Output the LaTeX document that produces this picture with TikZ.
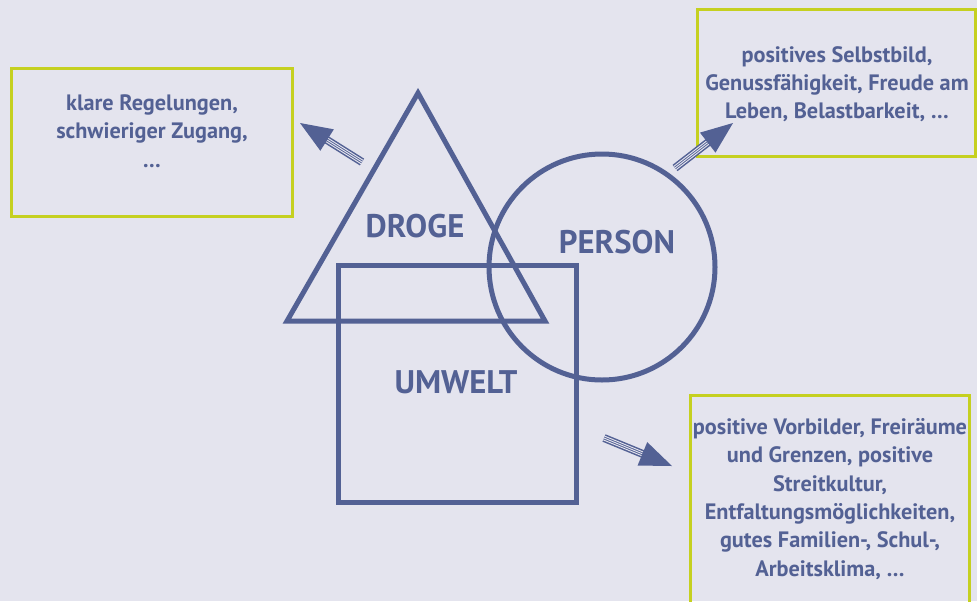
\documentclass[tikz,border=0pt]{standalone}
\usepackage{fontspec}
\setmainfont{PT Sans}
\usetikzlibrary{calc}

\definecolor{bgcol}{RGB}{228,228,238}
\definecolor{ink}{RGB}{83,97,148}
\definecolor{lime}{RGB}{197,208,32}

\tikzset{
  shapeline/.style={draw=ink, line width=3.75pt, line join=miter},
  infobox/.style={draw=lime, line width=2.25pt, inner sep=0pt},
  infotext/.style={text=ink, font=\fontsize{16.7}{21.2}\selectfont\bfseries,
                   align=center, inner sep=0pt},
  biglabel/.style={text=ink, font=\fontsize{24.5}{28}\selectfont\bfseries, inner sep=0pt},
}

% striped shaft with a triangular head, from coordinate #1 to coordinate #2
\newcommand{\stripedarrow}[2]{%
  \coordinate (#1-s) at ($(#2)!24pt!(#1)$);
  \draw[ink, line width=6pt] (#1) -- ($(#1-s)!-2pt!(#1)$);
  \foreach \o in {-1.5pt,0pt,1.5pt}{
    \draw[bgcol, line width=0.7pt] ($(#1)!\o!90:(#1-s)$) -- ($(#1-s)!\o!-90:(#1)$);
  }
  \fill[ink] (#2) -- ($(#1-s)!9.5pt!90:(#2)$) -- ($(#1-s)!9.5pt!-90:(#2)$) -- cycle;
}

\begin{document}
\begin{tikzpicture}[x=0.75pt, y=-0.75pt]
  \fill[bgcol] (0,0) rectangle (977,601);
  \useasboundingbox (0,0) rectangle (977,601);
  \clip (0,0) rectangle (977,601);

  % the three overlapping figures
  \draw[shapeline] (418,93) -- (545,321) -- (287,321) -- cycle;
  \draw[shapeline] (338,265) rectangle (576,502);
  \draw[shapeline] (602,267) circle (113);

  \node[biglabel] (droge)  at (415,226) {DROGE};
  \node[biglabel] (person) at (617,242) {PERSON};
  \node[biglabel] (umwelt) at (456,382) {UMWELT};

  % information boxes
  \node[infobox, minimum width=281*0.75pt, minimum height=148*0.75pt] (boxdroge) at (151.5,142) {};
  \node[infobox, minimum width=278*0.75pt, minimum height=147*0.75pt] (boxperson) at (836,82.5) {};
  \node[infobox, minimum width=279*0.75pt, minimum height=245*0.75pt] (boxumwelt) at (829.5,517.5) {};

  \node[infotext] (tdroge) at (152,131) {klare Regelungen,\\schwieriger Zugang,\\\dots};
  \node[infotext] (tperson) at (837,84) {positives Selbstbild,\\Genussfähigkeit, Freude am\\Leben, Belastbarkeit, \dots};
  \node[infotext] (tumwelt) at (830,499) {positive Vorbilder, Freiräume\\und Grenzen, positive\\Streitkultur,\\Entfaltungsmöglichkeiten,\\gutes Familien-, Schul-,\\Arbeitsklima, \dots};

  % arrows
  \coordinate (a1) at (362,162);
  \coordinate (b1) at (300,123);
  \coordinate (a2) at (675,168);
  \coordinate (b2) at (733,123);
  \coordinate (a3) at (604,438);
  \coordinate (b3) at (672,466);
  \stripedarrow{a1}{b1}
  \stripedarrow{a2}{b2}
  \stripedarrow{a3}{b3}
\end{tikzpicture}
\end{document}
